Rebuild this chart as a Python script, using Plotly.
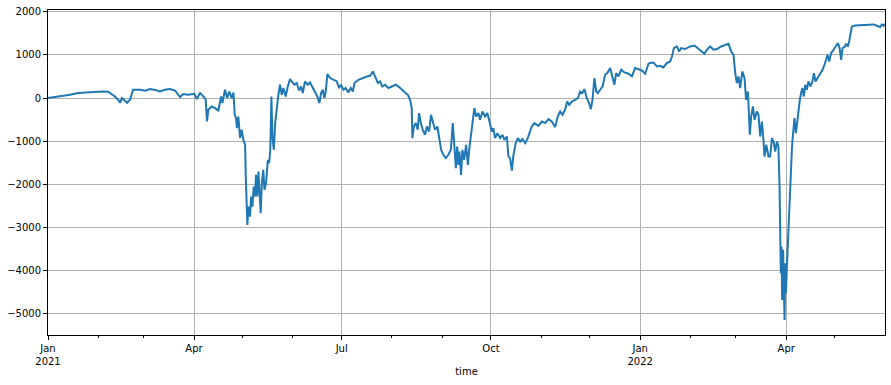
import pandas as pd
import plotly.graph_objects as go

# Days since 2021-01-01 and the read-off values
day_offsets = [
    0, 7.4, 13.6, 18.5, 25.9, 33.9, 37, 39.5, 41.3, 43.2, 44.4, 45.6, 47, 48.7, 50.6, 52.4, 56.7, 59.8, 62.9, 66, 69, 72.1,
    75.2, 78.3, 81.4, 83.4, 86.5, 90.2, 91.7, 93.7, 95.8, 97.2, 98, 98.8, 100.9, 103, 105, 106.7, 107.5, 109.1, 110.4,
    111.8, 113.2, 114.3, 115.1, 115.9, 116.5, 117.3, 118.4, 119.4, 120.4, 121.5, 121.9, 122.3, 122.9, 123.5, 124.5,
    125.2, 126, 126.8, 127.6, 128.2, 129, 129.7, 130.5, 131.1, 131.8, 132.7, 133.4, 134.4, 135.5, 136.3, 137, 137.7,
    138.3, 139.2, 140, 141, 142, 143, 144.1, 145.1, 146.5, 147.8, 149.2,
    150.2, 151.9, 153.3, 154.7, 156, 157, 158.4, 160.1, 161.5, 162.9, 164.6, 166, 167.3, 168.3, 169.4, 170.3, 171.2,
    172.2, 173.9, 175.9, 178, 179.4, 180.6, 182.1, 183.5, 185.1, 186.6, 187.9, 188.9, 191.3, 193.8, 196.5, 198.5,
    200.2, 201.6, 203.3, 204.7, 206.1, 207.8, 209.8, 211.9, 214.4, 216.4, 218.4, 220.1,
    221.8, 223.2, 224.2, 224.6, 225.5, 226.7, 227.9, 228.7, 229.8, 231, 232.4, 233.5, 234.9, 236.1, 237.4, 238.6, 240,
    241.2, 242.3, 243.7, 245.2, 246.8, 248.3, 249.5, 250.5, 251.4, 252.2, 253, 253.6, 254.6, 255.4, 256.5, 257.7,
    258.8, 259.7, 260.8, 261.8, 262.8, 263.9, 265.3, 266.3, 267.8, 269.4, 270.8, 272.1, 273.5, 274.5, 275.6, 277,
    278.7, 280.1, 281.3, 282.8, 283.8, 284.8, 285.9, 286.9, 288.3, 289.6, 291, 292.4, 294.1, 295.7,
    298.2, 299.8, 302.3, 304.4, 306.4, 308.5, 310.5, 312.6, 314.2, 315.7, 317.1, 318.7, 320, 321.2, 322.9, 324.9,
    326.6, 328, 329.4, 330.6, 332.1, 333.5, 334.6, 335.6, 336.8, 337.9, 338.9, 340.3, 341.8, 343.4, 344.8, 346.5,
    347.9, 349.1, 350.2, 351.6, 353.3, 355.3, 357.8, 359.9, 361.9, 364, 366, 368.1, 370.1,
    371.1, 373.2, 375.3, 377.3, 379.3, 381.4, 383.5, 384.5, 385.8, 387.6, 389, 390.3, 392.7, 395.8, 398.5, 400.9,
    403, 404.6, 406.1, 408.1, 410.2, 412.3, 414.9, 417.4, 419.4, 421.1, 422.5, 423.6, 424.6, 425.6, 426.6, 428,
    429.3, 430.3, 431.4, 432.6, 433.4, 434.5, 435.5, 436.9, 437.9, 439, 440, 441, 441.6, 442.7, 444.1,
    445.1, 446.2, 447.2, 448.2, 449.3, 450.2, 450.9, 451.3, 451.7, 452.1, 452.5, 453.1, 453.6, 454, 454.4, 454.8,
    455.4, 456, 456.7, 457.3, 457.9, 458.5, 458.9, 459.5, 460.1, 461, 461.8, 462.6, 463.4, 464.2, 465, 465.9, 466.7,
    467.7, 468.7, 470, 471.2, 472.1, 473.1, 474.3, 475.9, 477.4, 478.6, 479.7, 480.5, 481.5, 482.7, 484.2, 485.6,
    486.9, 487.9, 488.9, 489.7, 491, 492, 493, 493.8, 494.6, 495.5, 497.5, 501.7, 505.7, 508.8, 510.9, 512.9, 514,
    515, 515.9,
]

pnl = [
    0, 37, 77, 116, 139, 153, 146, 77, 37, -40, -110, 0, -60, -110, -40, 193, 193, 170, 209, 190, 153, 193,
    209, 176, 23, 93, 77, 100, -23, 116, 37, -40, -543, -271, -195, -232, -288, 37, -116, 193, 0,
    153, 0, 130, -387, -464, -696, -427, -928, -735, -967, -1083, -1819, -2283, -2939, -2515, -2747,
    -2283, -2515, -2051, -2283, -1779, -2283, -1703, -2204, -2668, -1972, -1663, -2127, -1972, -1431, -1508, -1199, 37,
    -891, -1199, -580, -195, 77, 309, 77, 232, 37, 269, 441,
    385, 309, 348, 176, 269, 116, 385, 309, 362, 269, 153, 37, -116, 116, 193, 0, 153,
    557, 464, 425, 385, 232, 309, 193, 232, 130, 232, 153, 348, 425, 464, 501, 517,
    617, 501, 348, 385, 269, 309, 232, 269, 309, 255, 176, 130,
    77, -40, -232, -928, -659, -580, -735, -348, -580, -735, -851, -659, -774, -387, -580, -735, -659,
    -967, -1199, -1315, -1392, -1315, -1199, -580, -1044, -1624, -1123, -1547, -1239, -1779, -1199, -1431, -1083,
    -1547, -1160, -812, -464, -232, -427, -348, -503, -311, -427, -348, -543, -774, -696, -928, -812,
    -928, -851, -967, -891, -1355, -1392, -1680, -1315, -1044, -928, -1007, -951, -1044, -928,
    -659, -580, -643, -543, -580, -487, -543, -673, -427, -311, -387, -271, -79, -155, -79, -40,
    0, 153, 116, 209, 0, -116, -255, -40, 464, 153, 116, 193, 269, 541, 580, 696,
    501, 309, 580, 501, 657, 594, 564, 501, 696, 673, 640, 564, 796,
    812, 826, 733, 749, 710, 812, 849, 951, 1160, 1197, 1081, 1160, 1137, 1197, 1220, 1137,
    1081, 1028, 1121, 1197, 1121, 1137, 1197, 1237, 1260, 1081, 1005, 580, 348, 501, 232, 617,
    464, -40, 153, -851, -427, -195, -503, -311, -387, -891, -543, -967, -1355, -1083, -1355,
    -1355, -928, -1007, -1239, -1007, -1123, -2051, -3211, -4060, -3443, -4679, -3519, -4139, -5143, -3828, -4524,
    -3944, -3364, -2900, -2127, -1431, -1199, -967, -619, -464, -812, -543, -232, -40, 116, 232, 37, 309,
    193, 385, 269, 385, 580, 385, 464, 564, 657, 773, 889, 1005, 849, 1044, 1121, 1213,
    1276, 1160, 889, 1160, 1183, 1260, 1197, 1313, 1508, 1661, 1684, 1694, 1701, 1708, 1677, 1647, 1708,
    1677, 1724,
]

major_tick_dates = ["2021-01-01", "2021-04-01", "2021-07-01", "2021-10-01", "2022-01-01", "2022-04-01"]
major_tick_labels = ["Jan<br>2021", "Apr", "Jul", "Oct", "Jan<br>2022", "Apr"]
minor_tick_dates = ["2021-02-01", "2021-03-01", "2021-05-01", "2021-06-01", "2021-08-01", "2021-09-01",
                    "2021-11-01", "2021-12-01", "2022-02-01", "2022-03-01", "2022-05-01"]
y_ticks = [2000, 1000, 0, -1000, -2000, -3000, -4000, -5000]

start = pd.Timestamp("2021-01-01")
times = start + pd.to_timedelta(day_offsets, unit="D")

fig = go.Figure()
fig.add_trace(go.Scatter(x=times, y=pnl, mode="lines",
                         line=dict(color="#1f77b4", width=2), showlegend=False))

axis_font = dict(family="DejaVu Sans", size=10, color="black")
fig.update_layout(
    width=891, height=385,
    margin=dict(l=48, r=6, t=10, b=50),
    paper_bgcolor="white", plot_bgcolor="white",
    font=axis_font,
    xaxis=dict(
        range=[times[0], times[-1]],
        tickmode="array", tickvals=major_tick_dates, ticktext=major_tick_labels,
        ticks="outside", ticklen=4, tickwidth=0.8, tickcolor="black",
        showgrid=True, gridcolor="#b0b0b0", gridwidth=0.8,
        showline=True, linecolor="black", linewidth=1, mirror=True,
        zeroline=False, tickfont=axis_font,
        minor=dict(tickmode="array", tickvals=minor_tick_dates, ticks="outside",
                   ticklen=2, tickwidth=0.6, tickcolor="black", showgrid=False),
        title=dict(text="time", font=axis_font, standoff=1),
    ),
    yaxis=dict(
        range=[-5492, 2042],
        tickmode="array", tickvals=y_ticks,
        ticks="outside", ticklen=4, tickwidth=0.8, tickcolor="black",
        showgrid=True, gridcolor="#b0b0b0", gridwidth=0.8,
        showline=True, linecolor="black", linewidth=1, mirror=True,
        zeroline=False, tickfont=axis_font,
    ),
)

fig.write_html("out.html")
